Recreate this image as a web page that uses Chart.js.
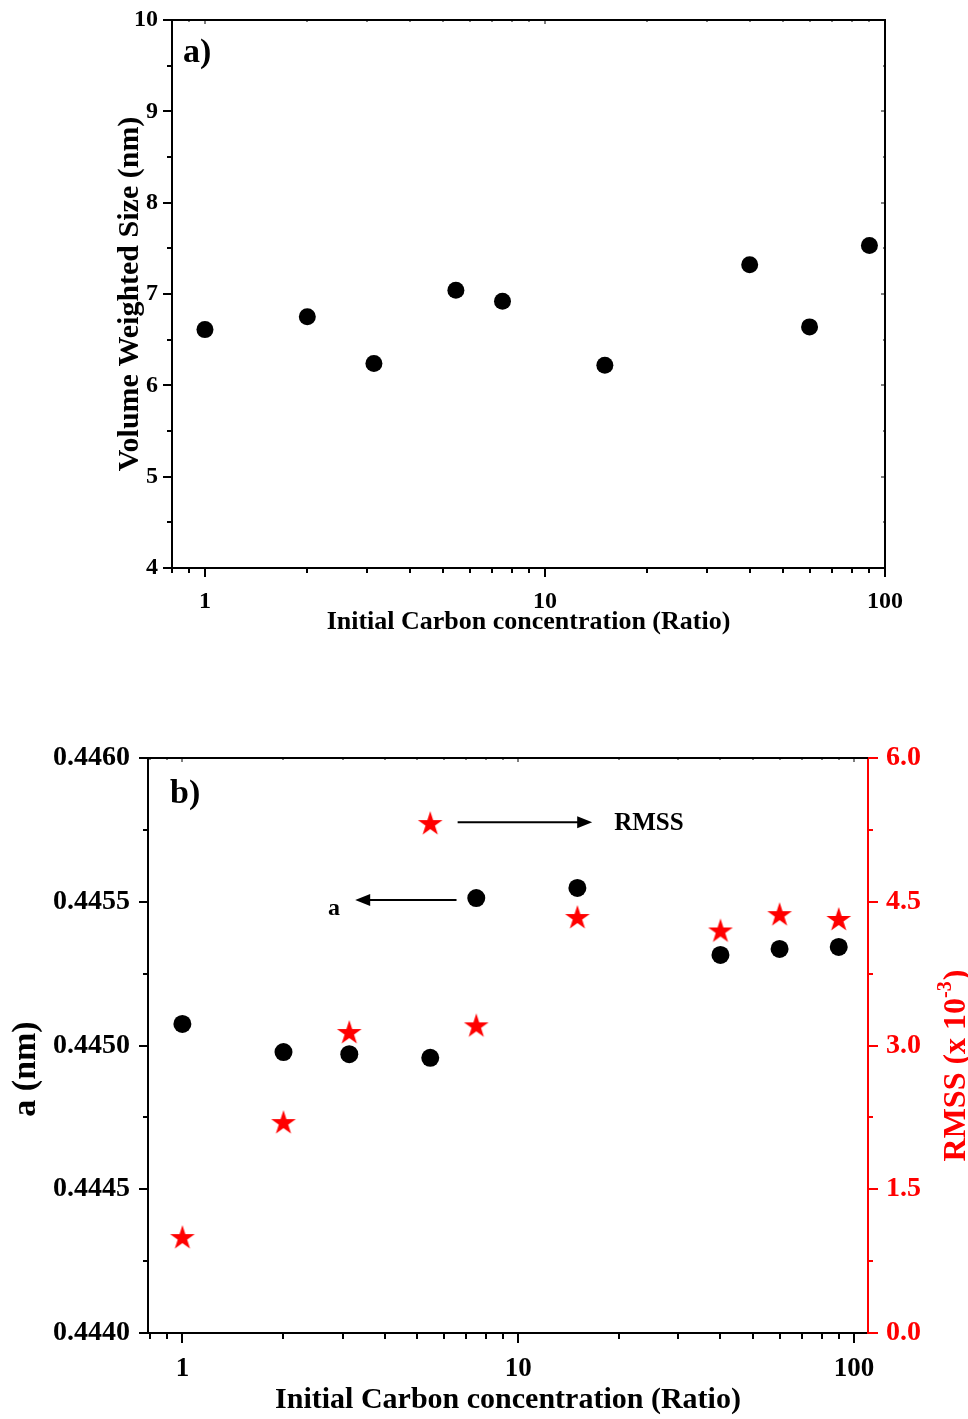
<!DOCTYPE html>
<html>
<head>
<meta charset="utf-8">
<script src="https://cdn.jsdelivr.net/npm/chart.js@4.4.0/dist/chart.umd.min.js"></script>
<style>
  body { margin: 0; background: #fff; width: 968px; height: 1419px; position: relative; overflow: hidden; }
  canvas { position: absolute; left: 0; }
</style>
</head>
<body>
<canvas id="chartA" width="968" height="660" style="top:0"></canvas>
<canvas id="chartB" width="968" height="719" style="top:700px"></canvas>
<script>
// initial carbon ratio for each sample (shared by both panels)
var ratio = [1, 2, 3.14, 5.47, 7.5, 15, 40, 60, 90];
// panel a: volume weighted crystallite size, nm
var sizeNm = [6.61, 6.75, 6.24, 7.04, 6.92, 6.22, 7.32, 6.64, 7.53];
// panel b: lattice parameter a (nm) and RMSS (x 10^-3)
var latticeA = [0.445075, 0.444977, 0.444970, 0.444957, 0.445513, 0.445548, 0.445315, 0.445336, 0.445343];
var rmss = [0.99, 2.19, 3.13, 5.31, 3.20, 4.33, 4.19, 4.36, 4.31];

var ratioTicks = [1, 10, 100];
var sizeTicks = [4, 5, 6, 7, 8, 9, 10];
var aTicks = [0.4440, 0.4445, 0.4450, 0.4455, 0.4460];
var rmssTicks = [0, 1.5, 3.0, 4.5, 6.0];

var SERIF = '"Liberation Serif", "Times New Roman", serif';
var RED = '#ff0000';

function fixedTicks(list) {
  return function (scale) {
    scale.ticks = list.map(function (v) { return { value: v }; });
  };
}

function pairs(xs, ys) {
  return xs.map(function (x, i) { return { x: x, y: ys[i] }; });
}

function seg(ctx, x1, y1, x2, y2) {
  ctx.beginPath();
  ctx.moveTo(x1, y1);
  ctx.lineTo(x2, y2);
  ctx.stroke();
}

// 1..9 marks of every decade inside the range
function logMarks(min, max) {
  var out = [];
  for (var e = Math.floor(Math.log10(min)); Math.pow(10, e) <= max; e++) {
    for (var m = 1; m < 10; m++) {
      var v = m * Math.pow(10, e);
      if (v >= min * 0.999 && v <= max * 1.001) out.push({ v: v, major: m === 1 });
    }
  }
  return out;
}

// major ticks plus one minor tick halfway between them
function linMarks(list) {
  var out = [];
  list.forEach(function (v, i) {
    out.push({ v: v, major: true });
    if (i < list.length - 1) out.push({ v: (v + list[i + 1]) / 2, major: false });
  });
  return out;
}

function arrow(ctx, x1, y, x2) {
  var dir = x2 > x1 ? 1 : -1;
  ctx.lineWidth = 2;
  seg(ctx, x1, y, x2 - dir * 10, y);
  ctx.beginPath();
  ctx.moveTo(x2, y);
  ctx.lineTo(x2 - dir * 15, y - 6);
  ctx.lineTo(x2 - dir * 15, y + 6);
  ctx.closePath();
  ctx.fill();
}

// filled five-point star used as the RMSS marker
function starImage(r, color) {
  var c = document.createElement('canvas');
  var s = Math.ceil(r * 2 + 2);
  c.width = s;
  c.height = s;
  var g = c.getContext('2d');
  g.fillStyle = color;
  g.beginPath();
  for (var i = 0; i < 10; i++) {
    var rad = i % 2 ? r * 0.382 : r;
    var ang = -Math.PI / 2 + i * Math.PI / 5;
    var px = s / 2 + rad * Math.cos(ang);
    var py = s / 2 + rad * Math.sin(ang);
    if (i === 0) g.moveTo(px, py); else g.lineTo(px, py);
  }
  g.closePath();
  g.fill();
  return c;
}

var frameA = {
  id: 'frameA',
  afterDraw: function (chart) {
    var ctx = chart.ctx, a = chart.chartArea, sx = chart.scales.x, sy = chart.scales.y;
    ctx.save();
    ctx.strokeStyle = '#000';
    ctx.lineWidth = 2;
    seg(ctx, a.left - 1, a.top, a.right + 1, a.top);
    seg(ctx, a.right, a.top, a.right, a.bottom + 1);
    logMarks(sx.min, sx.max).forEach(function (t) {
      var px = Math.round(sx.getPixelForValue(t.v));
      ctx.lineWidth = 2;
      seg(ctx, px, a.bottom, px, a.bottom + (t.major ? 9 : 5));
      ctx.lineWidth = 1;
      seg(ctx, px, a.top, px, a.top + (t.major ? 4 : 2));
    });
    linMarks(sizeTicks).forEach(function (t) {
      var py = Math.round(sy.getPixelForValue(t.v));
      ctx.lineWidth = 2;
      seg(ctx, a.left, py, a.left - (t.major ? 9 : 5), py);
      ctx.lineWidth = 1;
      seg(ctx, a.right, py, a.right - (t.major ? 4 : 2), py);
    });
    ctx.fillStyle = '#000';
    ctx.font = 'bold 34px ' + SERIF;
    ctx.textAlign = 'left';
    ctx.textBaseline = 'alphabetic';
    ctx.fillText('a)', a.left + 11, a.top + 42);
    ctx.restore();
  }
};

var frameB = {
  id: 'frameB',
  afterDraw: function (chart) {
    var ctx = chart.ctx, a = chart.chartArea;
    var sx = chart.scales.x, sy = chart.scales.y, sr = chart.scales.y1;
    ctx.save();
    ctx.strokeStyle = '#000';
    ctx.fillStyle = '#000';
    ctx.lineWidth = 2;
    seg(ctx, a.left - 1, a.top, a.right, a.top);
    logMarks(sx.min, sx.max).forEach(function (t) {
      var px = Math.round(sx.getPixelForValue(t.v));
      ctx.lineWidth = 2;
      seg(ctx, px, a.bottom, px, a.bottom + (t.major ? 10 : 6));
      ctx.lineWidth = 1;
      seg(ctx, px, a.top, px, a.top + (t.major ? 4 : 2));
    });
    ctx.lineWidth = 2;
    linMarks(aTicks).forEach(function (t) {
      var py = Math.round(sy.getPixelForValue(t.v));
      seg(ctx, a.left, py, a.left - (t.major ? 9 : 5), py);
    });
    ctx.strokeStyle = RED;
    linMarks(rmssTicks).forEach(function (t) {
      var py = Math.round(sr.getPixelForValue(t.v));
      seg(ctx, a.right, py, a.right + (t.major ? 10 : 5), py);
    });

    // panel letter
    ctx.font = 'bold 34px ' + SERIF;
    ctx.textAlign = 'left';
    ctx.textBaseline = 'alphabetic';
    ctx.fillText('b)', a.left + 22, a.top + 45);

    // series hints: star -> RMSS (right axis), dot -> a (left axis)
    ctx.strokeStyle = '#000';
    var yR = sr.getPixelForValue(5.33);
    arrow(ctx, sx.getPixelForValue(6.6), yR, sx.getPixelForValue(16.6));
    ctx.font = 'bold 25px ' + SERIF;
    ctx.fillText('RMSS', sx.getPixelForValue(19.3), yR + 8);
    var yA = sy.getPixelForValue(0.445506);
    arrow(ctx, sx.getPixelForValue(6.55), yA, sx.getPixelForValue(3.27));
    ctx.font = 'bold 24px ' + SERIF;
    ctx.textAlign = 'center';
    ctx.fillText('a', sx.getPixelForValue(2.83), yA + 15);

    // left axis title
    ctx.save();
    ctx.translate(26, 369);
    ctx.rotate(-Math.PI / 2);
    ctx.font = 'bold 34px ' + SERIF;
    ctx.textAlign = 'center';
    ctx.textBaseline = 'middle';
    ctx.fillText('a (nm)', 0, 0);
    ctx.restore();

    // right axis title with superscript exponent
    ctx.save();
    ctx.translate(954, 366);
    ctx.rotate(-Math.PI / 2);
    ctx.fillStyle = RED;
    ctx.textAlign = 'left';
    ctx.textBaseline = 'alphabetic';
    var big = 'bold 32px ' + SERIF, small = 'bold 20px ' + SERIF;
    ctx.font = big;
    var w1 = ctx.measureText('RMSS (x 10').width;
    var w3 = ctx.measureText(')').width;
    ctx.font = small;
    var w2 = ctx.measureText('-3').width;
    var x0 = -(w1 + w2 + w3) / 2, base = 11;
    ctx.font = big;
    ctx.fillText('RMSS (x 10', x0, base);
    ctx.font = small;
    ctx.fillText('-3', x0 + w1, base - 14);
    ctx.font = big;
    ctx.fillText(')', x0 + w1 + w2 + 1, base);
    ctx.restore();

    ctx.restore();
  }
};

var common = {
  responsive: false,
  devicePixelRatio: 1,
  animation: false,
  plugins: { legend: { display: false }, tooltip: { enabled: false } }
};

new Chart(document.getElementById('chartA'), {
  type: 'scatter',
  data: {
    datasets: [{
      label: 'Volume Weighted Size',
      data: pairs(ratio, sizeNm),
      pointRadius: 8.5,
      pointBackgroundColor: '#000',
      pointBorderWidth: 0
    }]
  },
  options: Object.assign({}, common, {
    layout: { padding: { top: 20, right: 83, left: 0, bottom: 0 } },
    scales: {
      x: {
        type: 'logarithmic',
        min: 0.8,
        max: 100,
        afterBuildTicks: fixedTicks(ratioTicks),
        afterFit: function (s) { s.height = 92; },
        grid: { display: false, drawTicks: false },
        border: { color: '#000', width: 2 },
        ticks: {
          callback: function (v) { return String(v); },
          color: '#000', padding: 19, maxRotation: 0, autoSkip: false,
          font: { family: SERIF, size: 24, weight: 'bold' }
        },
        title: {
          display: true, text: 'Initial Carbon concentration (Ratio)', color: '#000',
          padding: { top: 0, bottom: 22 },
          font: { family: SERIF, size: 26, weight: 'bold' }
        }
      },
      y: {
        min: 4,
        max: 10,
        afterBuildTicks: fixedTicks(sizeTicks),
        afterFit: function (s) {
          s.width = 172;
          s.paddingTop = 0;
          s.paddingBottom = 0;
        },
        grid: { display: false, drawTicks: false },
        border: { color: '#000', width: 2 },
        ticks: {
          callback: function (v) { return String(v); },
          color: '#000', padding: 14,
          font: { family: SERIF, size: 24, weight: 'bold' }
        },
        title: {
          display: true, text: 'Volume Weighted Size (nm)', color: '#000',
          padding: { top: 112, bottom: 0 },
          font: { family: SERIF, size: 30, weight: 'bold' }
        }
      }
    }
  }),
  plugins: [frameA]
});

new Chart(document.getElementById('chartB'), {
  type: 'scatter',
  data: {
    datasets: [{
      label: 'a',
      data: pairs(ratio, latticeA),
      yAxisID: 'y',
      pointRadius: 9,
      pointBackgroundColor: '#000',
      pointBorderWidth: 0
    }, {
      label: 'RMSS',
      data: pairs(ratio, rmss),
      yAxisID: 'y1',
      pointStyle: starImage(13, RED)
    }]
  },
  options: Object.assign({}, common, {
    layout: { padding: { top: 58, right: 0, left: 0, bottom: 0 } },
    scales: {
      x: {
        type: 'logarithmic',
        min: 0.79,
        max: 110,
        afterBuildTicks: fixedTicks(ratioTicks),
        afterFit: function (s) { s.height = 86; },
        grid: { display: false, drawTicks: false },
        border: { color: '#000', width: 2 },
        ticks: {
          callback: function (v) { return String(v); },
          color: '#000', padding: 20, maxRotation: 0, autoSkip: false,
          font: { family: SERIF, size: 27, weight: 'bold' }
        },
        title: {
          display: true, text: 'Initial Carbon concentration (Ratio)', color: '#000',
          padding: { top: 0, bottom: 1 },
          font: { family: SERIF, size: 30, weight: 'bold' }
        }
      },
      y: {
        position: 'left',
        min: 0.4440,
        max: 0.4460,
        afterBuildTicks: fixedTicks(aTicks),
        afterFit: function (s) { s.width = 148; },
        grid: { display: false, drawTicks: false },
        border: { color: '#000', width: 2 },
        ticks: {
          callback: function (v) { return v.toFixed(4); },
          color: '#000', padding: 18,
          font: { family: SERIF, size: 28, weight: 'bold' }
        }
      },
      y1: {
        position: 'right',
        min: 0,
        max: 6,
        afterBuildTicks: fixedTicks(rmssTicks),
        afterFit: function (s) { s.width = 100; },
        grid: { display: false, drawTicks: false },
        border: { color: RED, width: 2 },
        ticks: {
          callback: function (v) { return v.toFixed(1); },
          color: RED, padding: 18,
          font: { family: SERIF, size: 28, weight: 'bold' }
        }
      }
    }
  }),
  plugins: [frameB]
});
</script>
</body>
</html>
